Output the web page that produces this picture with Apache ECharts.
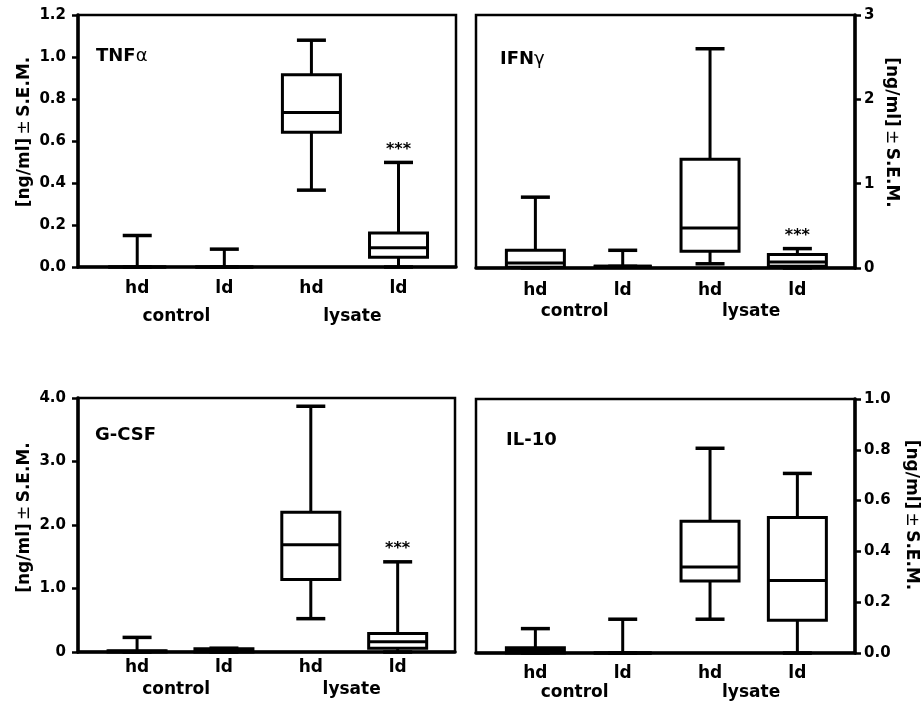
<!DOCTYPE html>
<html>
<head>
<meta charset="utf-8">
<script src="https://cdn.jsdelivr.net/npm/echarts@6/dist/echarts.min.js"></script>
<style>
  html, body { margin: 0; background: #fff; }
  #chart { width: 922px; height: 706px; }
</style>
</head>
<body>
<div id="chart"></div>
<script>
// x轴分类和分组
const categories = ['hd', 'ld', 'hd', 'ld'];
const categoryPos = [0, 1, 2, 3];
const groups = ['control', 'lysate'];
const groupPos = [0.45, 2.47];

// 每个箱子: [min, Q1, median, Q3, max]
const tnfData = [[0, 0, 0, 0, 0.15], [0, 0, 0, 0, 0.085], [0.366, 0.642, 0.736, 0.916, 1.08], [0, 0.046, 0.092, 0.162, 0.498]];
const ifnData = [[0, 0.01, 0.06, 0.21, 0.84], [0.02, 0.02, 0.02, 0.02, 0.21], [0.05, 0.2, 0.475, 1.29, 2.6], [0, 0.02, 0.07, 0.16, 0.23]];
const gcsfData = [[0, 0, 0.01, 0.02, 0.23], [0, 0, 0.02, 0.05, 0.06], [0.525, 1.14, 1.69, 2.2, 3.87], [0, 0.06, 0.16, 0.29, 1.42]];
const il10Data = [[0, 0, 0.01, 0.021, 0.096], [0, 0, 0, 0, 0.133], [0.133, 0.283, 0.339, 0.519, 0.806], [0, 0.129, 0.285, 0.533, 0.707]];

// 显著性标记
const tnfSig = ['', '', '', '***'];
const ifnSig = ['', '', '', '***'];
const gcsfSig = ['', '', '', '***'];
const il10Sig = ['', '', '', ''];

// y轴刻度文字
const tnfTicks = ['0.0', '0.2', '0.4', '0.6', '0.8', '1.0', '1.2'];
const ifnTicks = ['0', '1', '2', '3'];
const gcsfTicks = ['0', '1.0', '2.0', '3.0', '4.0'];
const il10Ticks = ['0.0', '0.2', '0.4', '0.6', '0.8', '1.0'];

const FONT = '"DejaVu Sans", sans-serif';
const BOX_W = 58;
const CAP_W = 29;

const panels = [
  { title: 'TNF', greek: 'α', data: tnfData, sig: tnfSig, ticks: tnfTicks, max: 1.2, step: 0.2,
    grid: { left: 78, top: 15, width: 378, height: 252 }, side: 'left',
    titlePos: [96, 47], catMargin: 13, groupPad: 28, nameGap: 45, nameShift: 18 },
  { title: 'IFN', greek: 'γ', data: ifnData, sig: ifnSig, ticks: ifnTicks, max: 3, step: 1,
    grid: { left: 476, top: 15, width: 379, height: 253 }, side: 'right',
    titlePos: [500, 50], catMargin: 14, groupPad: 21, nameGap: 28, nameShift: 18 },
  { title: 'G-CSF', greek: '', data: gcsfData, sig: gcsfSig, ticks: gcsfTicks, max: 4, step: 1,
    grid: { left: 78, top: 398, width: 377, height: 254 }, side: 'left',
    titlePos: [95, 426], catMargin: 7, groupPad: 22, nameGap: 45, nameShift: 15 },
  { title: 'IL-10', greek: '', data: il10Data, sig: il10Sig, ticks: il10Ticks, max: 1, step: 0.2,
    grid: { left: 476, top: 399, width: 379, height: 254 }, side: 'right',
    titlePos: [506, 431], catMargin: 12, groupPad: 19, nameGap: 48, nameShift: 22 }
];

function makeRender(sig) {
  return function (params, api) {
    const x = api.value(0);
    const ys = [1, 2, 3, 4, 5].map(function (i) { return api.coord([x, api.value(i)])[1]; });
    const cx = api.coord([x, 0])[0];
    const lo = ys[0], q1 = ys[1], md = ys[2], q3 = ys[3], hi = ys[4];
    const ls = { stroke: '#000', lineWidth: 3 };
    const cs = { stroke: '#000', lineWidth: 3.5 };
    const kids = [
      { type: 'line', shape: { x1: cx, y1: q3, x2: cx, y2: hi }, style: ls },
      { type: 'line', shape: { x1: cx, y1: q1, x2: cx, y2: lo }, style: ls },
      { type: 'line', shape: { x1: cx - CAP_W / 2, y1: hi, x2: cx + CAP_W / 2, y2: hi }, style: cs },
      { type: 'line', shape: { x1: cx - CAP_W / 2, y1: lo, x2: cx + CAP_W / 2, y2: lo }, style: cs },
      { type: 'rect', shape: { x: cx - BOX_W / 2, y: q3, width: BOX_W, height: q1 - q3 },
        style: { fill: '#fff', stroke: '#000', lineWidth: 3 } },
      { type: 'line', shape: { x1: cx - BOX_W / 2, y1: md, x2: cx + BOX_W / 2, y2: md }, style: ls }
    ];
    const s = sig[params.dataIndex];
    if (s) {
      kids.push({ type: 'text', x: cx, y: hi - 13,
        style: { text: s, fill: '#000', font: 'bold 16px ' + FONT, align: 'center', verticalAlign: 'middle' } });
    }
    return { type: 'group', children: kids };
  };
}

const option = {
  backgroundColor: '#fff',
  animation: false,
  title: [],
  grid: [],
  xAxis: [],
  yAxis: [],
  series: []
};

panels.forEach(function (p, i) {
  option.title.push({
    text: '{b|' + p.title + '}{n|' + p.greek + '}',
    left: p.titlePos[0], top: p.titlePos[1], padding: 0,
    textStyle: {
      rich: {
        b: { fontFamily: FONT, fontWeight: 'bold', fontSize: 18, color: '#000' },
        n: { fontFamily: FONT, fontWeight: 'normal', fontSize: 18, color: '#000' }
      }
    }
  });
  option.grid.push(Object.assign({
    show: true, borderColor: '#000', borderWidth: 2.5, backgroundColor: '#fff',
    containLabel: false, outerBoundsMode: 'none'
  }, p.grid));
  option.xAxis.push({
    type: 'value', gridIndex: i, min: -0.68, max: 3.66,
    axisLine: { show: true, onZero: false, lineStyle: { color: '#000', width: 3.5 } },
    axisTick: { show: false },
    splitLine: { show: false },
    axisLabel: {
      customValues: categoryPos.concat(groupPos),
      margin: p.catMargin,
      formatter: function (v) {
        const c = categoryPos.indexOf(v);
        if (c >= 0) return '{c|' + categories[c] + '}';
        return '{g|' + groups[groupPos.indexOf(v)] + '}';
      },
      rich: {
        c: { fontFamily: FONT, fontWeight: 'bold', fontSize: 17, color: '#000' },
        g: { fontFamily: FONT, fontWeight: 'bold', fontSize: 17, color: '#000', padding: [p.groupPad, 0, 0, 0] }
      }
    }
  });
  const ticks = p.ticks;
  const left = p.side === 'left';
  option.yAxis.push({
    type: 'value', gridIndex: i, position: p.side, min: 0, max: p.max, interval: p.step,
    axisLine: { show: true, onZero: false, lineStyle: { color: '#000', width: 3.5 } },
    axisTick: { show: true, inside: false, length: 6, lineStyle: { color: '#000', width: 2.5 } },
    splitLine: { show: false },
    axisLabel: {
      margin: left ? 12 : 9,
      fontFamily: FONT, fontWeight: 'bold', fontSize: 15, color: '#000',
      formatter: function (v) { return ticks[Math.round(v / p.step)]; }
    },
    name: '{b|[ng/ml]} {n|±} {b|S.E.M.}',
    nameLocation: 'middle',
    nameGap: p.nameGap,
    nameRotate: left ? 90 : -90,
    nameTextStyle: {
      padding: left ? [0, 0, 0, p.nameShift] : [0, p.nameShift, 0, 0],
      rich: {
        b: { fontFamily: FONT, fontWeight: 'bold', fontSize: 17, color: '#000' },
        n: { fontFamily: FONT, fontWeight: 'normal', fontSize: 17, color: '#000' }
      }
    }
  });
  option.series.push({
    type: 'custom', xAxisIndex: i, yAxisIndex: i,
    renderItem: makeRender(p.sig),
    encode: { x: 0, y: [1, 2, 3, 4, 5] },
    data: p.data.map(function (d, k) { return [categoryPos[k]].concat(d); })
  });
});

const myChart = echarts.init(document.getElementById('chart'));
myChart.setOption(option);
</script>
</body>
</html>
